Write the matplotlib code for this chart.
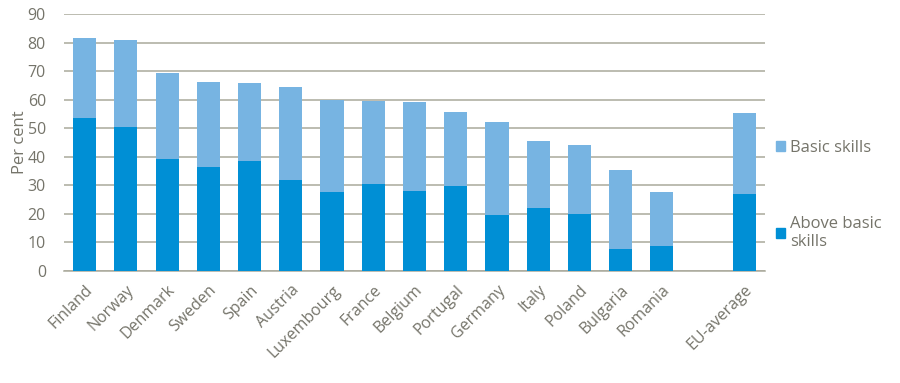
import matplotlib.pyplot as plt
from matplotlib.patches import Patch

plt.rcParams['font.family'] = ['Open Sans', 'DejaVu Sans']

paises = ['Finland', 'Norway', 'Denmark', 'Sweden', 'Spain', 'Austria',
          'Luxembourg', 'France', 'Belgium', 'Portugal', 'Germany', 'Italy',
          'Poland', 'Bulgaria', 'Romania', 'EU-average']
acima_basico = [53.6, 50.5, 39.3, 36.5, 38.6, 31.9, 27.7, 30.5, 28.1, 29.8,
                19.6, 22.1, 20.0, 7.7, 8.8, 27.0]
total = [81.7, 81.0, 69.4, 66.3, 65.9, 64.5, 60.0, 59.6, 59.3, 55.8,
         52.2, 45.6, 44.2, 35.4, 27.7, 55.4]
basico = [t - a for t, a in zip(total, acima_basico)]

# slot vazio entre Romania e EU-average
posicoes = list(range(15)) + [16]

cor_texto = '#75746a'
cor_escura = '#008fd5'
cor_clara = '#77b4e2'

fig = plt.figure(figsize=(9, 3.83), dpi=100)
ax = fig.add_axes([0.0711, 0.2924, 0.7789, 0.671])

ax.bar(posicoes, acima_basico, width=0.56, color=cor_escura, zorder=3)
ax.bar(posicoes, basico, bottom=acima_basico, width=0.56, color=cor_clara, zorder=3)

ax.set_xlim(-0.5, 16.5)
ax.set_ylim(0, 90)
ax.set_yticks(range(0, 91, 10))
ax.yaxis.grid(True, color='#aaa99b', linewidth=1.1, zorder=0)
for lado in ['top', 'right', 'left']:
    ax.spines[lado].set_visible(False)
ax.spines['bottom'].set_color('#aaa99b')
ax.spines['bottom'].set_linewidth(1.1)
ax.tick_params(axis='both', length=0, labelsize=11.5, colors=cor_texto)
ax.tick_params(axis='y', pad=13)

ax.set_xticks(posicoes)
ax.set_xticklabels(paises, rotation=45, ha='right', va='top',
                   rotation_mode='anchor', fontsize=11.5, color=cor_texto)
ax.tick_params(axis='x', pad=8)

ax.set_ylabel('Per cent', fontsize=12, color=cor_texto, labelpad=0)

handles = [Patch(color=cor_clara), Patch(color=cor_escura)]
fig.legend(handles, ['Basic skills', 'Above basic\nskills'],
           loc='upper left', bbox_to_anchor=(0.855, 0.652), frameon=False,
           fontsize=12, labelcolor=cor_texto, handlelength=0.55,
           handleheight=0.55, handletextpad=0.3, labelspacing=3.6,
           borderaxespad=0)

fig.savefig('out.png', dpi=100)
